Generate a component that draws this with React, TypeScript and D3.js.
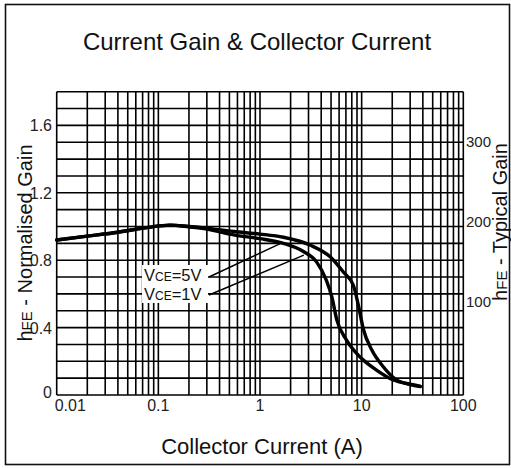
import { curveMonotoneX, line, range, scaleLinear, scaleLog, select } from 'd3';
import { useEffect, useRef } from 'react';

// collector current (A) / normalised gain
const vce5Current = [0.01, 0.02, 0.04, 0.08, 0.13, 0.2, 0.3, 0.55, 1, 1.7, 3.1, 4.9, 6.6, 8.3, 9.3, 10.4, 12.6, 16.3, 22, 30, 38];
const vce5Gain = [0.92, 0.943, 0.966, 0.995, 1.008, 1.0, 0.99, 0.97, 0.955, 0.936, 0.89, 0.82, 0.73, 0.65, 0.53, 0.39, 0.267, 0.168, 0.09, 0.062, 0.05];

const vce1Current = [0.01, 0.02, 0.04, 0.08, 0.13, 0.2, 0.3, 0.55, 1, 1.7, 2.7, 3.6, 4.5, 5.1, 5.7, 7.1, 9.6, 14, 20.5, 30, 37.5];
const vce1Gain = [0.92, 0.943, 0.966, 0.995, 1.008, 0.998, 0.985, 0.95, 0.928, 0.9, 0.85, 0.79, 0.68, 0.58, 0.445, 0.326, 0.227, 0.148, 0.089, 0.065, 0.053];

const xTickValues = [0.01, 0.1, 1, 10, 100];
const xTickLabels = ['0.01', '0.1', '1', '10', '100'];
const yTickValues = [0, 0.4, 0.8, 1.2, 1.6];
const yTickLabels = ['0', '0.4', '0.8', '1.2', '1.6'];
const hfeTicks = [100, 200, 300];

// leader line targets for the VCE labels
const annoLabels = ['=5V', '=1V'];
const annoCurrent = [1.6, 2.7];
const annoGain = [0.9, 0.83];

export default function App() {
  const svgRef = useRef<SVGSVGElement>(null);

  useEffect(() => {
    const width = 511;
    const height = 468;
    const font = 'Liberation Sans, Arial, sans-serif';

    const svg = select(svgRef.current);
    svg.selectAll('*').remove();
    svg.attr('width', width).attr('height', height);

    const x = scaleLog().domain([0.01, 100]).range([56.7, 463.3]);
    const y = scaleLinear().domain([0, 1.8]).range([395, 91.7]);
    // right hand axis is offset from the left one
    const yRight = scaleLinear().domain([100, 300]).range([y(0.554), y(1.503)]);

    svg.append('rect')
      .attr('width', width).attr('height', height).attr('fill', '#fff');

    // outer frame
    svg.append('rect')
      .attr('x', 5.5).attr('y', 4.5).attr('width', 504).attr('height', 460)
      .attr('fill', 'none').attr('stroke', '#111').attr('stroke-width', 1.6);

    svg.append('text')
      .attr('x', 257).attr('y', 50)
      .attr('text-anchor', 'middle')
      .attr('font-family', font).attr('font-size', 24)
      .attr('fill', '#111')
      .text('Current Gain & Collector Current');

    const grid = svg.append('g').attr('stroke', '#000').attr('stroke-width', 1.6);

    // log grid: 1..9 per decade
    const xGrid: number[] = [];
    [0.01, 0.1, 1, 10].forEach((d) => {
      range(1, 10).forEach((m) => xGrid.push(d * m));
    });
    xGrid.push(100);
    grid.selectAll('line.v')
      .data(xGrid)
      .enter()
      .append('line')
      .attr('x1', (d) => x(d)).attr('x2', (d) => x(d))
      .attr('y1', y(1.8)).attr('y2', y(0));

    grid.selectAll('line.h')
      .data(range(0, 19).map((i) => i / 10))
      .enter()
      .append('line')
      .attr('x1', x(0.01)).attr('x2', x(100))
      .attr('y1', (d) => y(d)).attr('y2', (d) => y(d));

    // curves
    const path = line<[number, number]>()
      .x((d) => x(d[0]))
      .y((d) => y(d[1]))
      .curve(curveMonotoneX);

    [
      vce5Current.map((c, i) => [c, vce5Gain[i]] as [number, number]),
      vce1Current.map((c, i) => [c, vce1Gain[i]] as [number, number]),
    ].forEach((pts) => {
      svg.append('path')
        .attr('d', path(pts))
        .attr('fill', 'none')
        .attr('stroke', '#000')
        .attr('stroke-width', 3.4)
        .attr('stroke-linejoin', 'round')
        .attr('stroke-linecap', 'round');
    });

    // labels
    svg.append('rect')
      .attr('x', 142).attr('y', 265).attr('width', 66).attr('height', 38)
      .attr('fill', '#fff');

    annoLabels.forEach((lbl, i) => {
      const ty = 281 + i * 19;
      const t = svg.append('text')
        .attr('x', 144).attr('y', ty)
        .attr('font-family', font).attr('font-size', 16.5)
        .attr('fill', '#111');
      t.append('tspan').text('V');
      t.append('tspan').attr('font-size', 12).text('CE');
      t.append('tspan').text(lbl);

      svg.append('line')
        .attr('x1', 209).attr('y1', ty - 4 - i * 1)
        .attr('x2', x(annoCurrent[i])).attr('y2', y(annoGain[i]))
        .attr('stroke', '#000').attr('stroke-width', 1.5);
    });

    // tick labels
    svg.selectAll('text.xt')
      .data(xTickValues)
      .enter()
      .append('text')
      .attr('x', (d, i) => (i === 0 ? x(d) - 2 : x(d)))
      .attr('y', 411)
      .attr('text-anchor', (d, i) => (i === 0 ? 'start' : 'middle'))
      .attr('font-family', font).attr('font-size', 16)
      .attr('fill', '#222')
      .text((d, i) => xTickLabels[i]);

    svg.selectAll('text.yt')
      .data(yTickValues)
      .enter()
      .append('text')
      .attr('x', 52)
      .attr('y', (d) => (d === 0 ? y(d) + 3 : y(d) + 6))
      .attr('text-anchor', 'end')
      .attr('font-family', font).attr('font-size', 16)
      .attr('fill', '#222')
      .text((d, i) => yTickLabels[i]);

    svg.selectAll('text.rt')
      .data(hfeTicks)
      .enter()
      .append('text')
      .attr('x', 466)
      .attr('y', (d) => yRight(d) + 5)
      .attr('font-family', font).attr('font-size', 15)
      .attr('fill', '#222')
      .text((d) => String(d));

    // axis titles
    svg.append('text')
      .attr('x', 262).attr('y', 454)
      .attr('text-anchor', 'middle')
      .attr('font-family', font).attr('font-size', 22)
      .attr('fill', '#111')
      .text('Collector Current (A)');

    const left = svg.append('text')
      .attr('transform', 'translate(32,243) rotate(-90)')
      .attr('text-anchor', 'middle')
      .attr('font-family', font).attr('font-size', 20)
      .attr('fill', '#111');
    left.append('tspan').text('h');
    left.append('tspan').attr('font-size', 15).text('FE');
    left.append('tspan').text(' - Normalised Gain');

    const right = svg.append('text')
      .attr('transform', 'translate(507,222) rotate(-90)')
      .attr('text-anchor', 'middle')
      .attr('font-family', font).attr('font-size', 20)
      .attr('fill', '#111');
    right.append('tspan').text('h');
    right.append('tspan').attr('font-size', 15).text('FE');
    right.append('tspan').text(' - Typical Gain');
  }, []);

  return (
    <div style={{ position: 'absolute', left: 0, top: 0 }}>
      <svg ref={svgRef} style={{ display: 'block' }}></svg>
    </div>
  );
}
